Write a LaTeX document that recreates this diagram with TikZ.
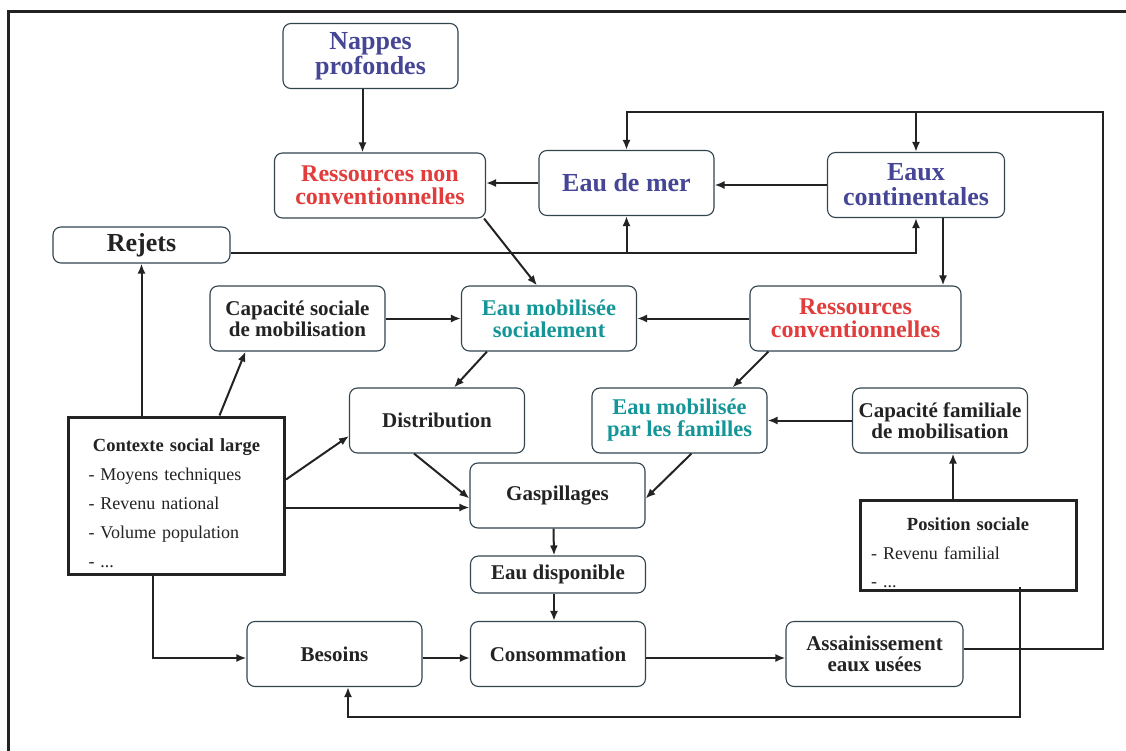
\documentclass[tikz,border=0pt]{standalone}
\usepackage{fontspec}
\setmainfont{Liberation Serif}
\usetikzlibrary{arrows.meta,positioning}
\definecolor{bleu}{RGB}{70,70,150}
\definecolor{rouge}{RGB}{226,60,60}
\definecolor{turq}{RGB}{20,150,152}
\definecolor{trait}{RGB}{50,68,78}
\definecolor{encre}{RGB}{35,35,35}
\def \bw {175pt}
\def \bh {65pt}
\def \fgrand {\fontsize{26}{25}\selectfont\bfseries}
\def \frouge {\fontsize{24}{23}\selectfont\bfseries}
\def \fturq {\fontsize{22.5}{22}\selectfont\bfseries}
\def \fliste {\fontsize{18}{29}\selectfont}
\def \ftitre {\fontsize{18.5}{29}\selectfont\bfseries}

\begin{document}
\begin{tikzpicture}[x=1pt,y=-1pt,>={Latex[length=10pt,width=8pt]},
    every node/.style={text=encre},
    boite/.style={draw=trait,rounded corners=8pt,line width=1.1pt,fill=white,align=center,
        minimum width=\bw,minimum height=\bh,inner sep=1pt,font=\fontsize{21}{21}\selectfont\bfseries},
    cadre/.style={draw=encre,line width=3pt,fill=white,align=left,inner ysep=0pt,font=\fliste},
    fleche/.style={->,line width=2pt,color=encre}]
    \useasboundingbox (0,0) rectangle (1126,751);
    \draw[line width=3pt,encre] (8,751) -- (8,12) -- (1126,12);

    \node[boite,text=bleu,font=\fgrand] (nappes) at (370.5,56) {Nappes\\profondes};
    \node[boite,text=rouge,font=\frouge,minimum width=211pt] (resnc) at (380,185.5) {Ressources non\\conventionnelles};
    \node[boite,text=bleu,font=\fgrand] (mer) at (626.5,183) {Eau de mer};
    \node[boite,text=bleu,font=\fgrand,minimum width=177pt] (cont) at (916,185) {Eaux\\continentales};
    \node[boite,font=\fgrand,minimum width=177pt,minimum height=36pt] (rejets) at (141.5,245) {Rejets};
    \node[boite] (capsoc) at (297.5,318.5) {Capacité sociale\\de mobilisation};
    \node[boite,text=turq,font=\fturq] (mobsoc) at (549,318.5) {Eau mobilisée\\socialement};
    \node[boite,text=rouge,font=\frouge,minimum width=211pt] (resconv) at (855.5,318.5) {Ressources\\conventionnelles};
    \node[boite] (distrib) at (437,420.5) {Distribution};
    \node[boite,text=turq,font=\fturq] (mobfam) at (679.5,420.5) {Eau mobilisée\\par les familles};
    \node[boite] (capfam) at (940,420.5) {Capacité familiale\\de mobilisation};
    \node[boite] (gaspi) at (557.5,495.5) {Gaspillages};
    \node[boite,minimum height=37pt] (dispo) at (558,574.5) {Eau disponible};
    \node[boite] (besoins) at (334.5,654) {Besoins};
    \node[boite] (conso) at (558,654) {Consommation};
    \node[boite,minimum width=177pt] (assain) at (874.5,654) {Assainissement\\eaux usées};

    \node[cadre,text width=176pt,inner xsep=20pt,minimum height=157pt] (contexte) at (176.5,495.5)
        {\makebox[\linewidth][c]{\rule{0pt}{29pt}\ftitre Contexte social large}\\- Moyens techniques\\- Revenu national\\- Volume population\\- ...};
    \node[cadre,text width=194pt,inner xsep=11pt,minimum height=90pt,font=\fontsize{18}{28.5}\selectfont] (position) at (968,545)
        {\makebox[\linewidth][c]{\rule{0pt}{29pt}\ftitre Position sociale}\\- Revenu familial\\- ...};

    % ressources
    \path[fleche] ([xshift=-8pt]nappes.south) edge ([xshift=-8pt]nappes.south |- resnc.north)
        (mer.west) edge (mer.west -| resnc.east)
        (cont.west) edge (cont.west -| mer.east)
        ([xshift=27pt]cont.south) edge ([xshift=27pt]cont.south |- resconv.north)
        ([xshift=-2pt]resnc.south east) edge ([xshift=-12pt]mobsoc.north)
        (capsoc) edge (mobsoc)
        (resconv) edge (mobsoc)
        ([xshift=-62pt]mobsoc.south) edge ([xshift=17pt]distrib.north)
        ([xshift=-87pt]resconv.south) edge ([xshift=53pt]mobfam.north)
        (capfam) edge (mobfam);
    % usages
    \path[fleche] ([xshift=-23pt]distrib.south) edge ([yshift=-3pt]gaspi.west)
        ([xshift=12pt]mobfam.south) edge ([yshift=-3pt]gaspi.east)
        ([xshift=-4pt]gaspi.south) edge ([xshift=-4pt]dispo.north)
        ([xshift=-4pt]dispo.south) edge ([xshift=-4pt]conso.north)
        ([yshift=-4pt]besoins.east) edge ([yshift=-4pt]conso.west)
        ([yshift=-4pt]conso.east) edge ([yshift=-4pt]assain.west);
    % contexte
    \coordinate (gaspin) at ([yshift=-12pt]gaspi.west);
    \path[fleche] (rejets.south |- contexte.north) edge (rejets.south)
        ([xshift=43pt]contexte.north) edge ([xshift=-52pt]capsoc.south)
        ([yshift=16pt]contexte.east) edge ([yshift=-15.5pt]distrib.west)
        (contexte.east |- gaspin) edge (gaspin);
    \draw[fleche] ([xshift=-24pt]contexte.south) |- ([yshift=-4pt]besoins.west);
    % position sociale
    \coordinate (posout) at ([xshift=52pt,yshift=5pt]position.south);
    \path[fleche] ([xshift=-15pt]position.north) edge ([xshift=-15pt]position.north |- capfam.south);
    \draw[fleche] (posout) -- ++(0,130) -| ([xshift=13.5pt]besoins.south);
    % rejets et retour
    \coordinate (rejout) at ([yshift=-8pt]rejets.east);
    \draw[fleche] (rejout) -| (cont.south);
    \path[fleche] (mer.south |- rejout) edge (mer.south);
    \coordinate (retour) at (1103,112);
    \draw[fleche] ([yshift=5pt]assain.east) -| (retour) -| (mer.north);
    \path[fleche] (cont.north |- retour) edge (cont.north);
\end{tikzpicture}
\end{document}
